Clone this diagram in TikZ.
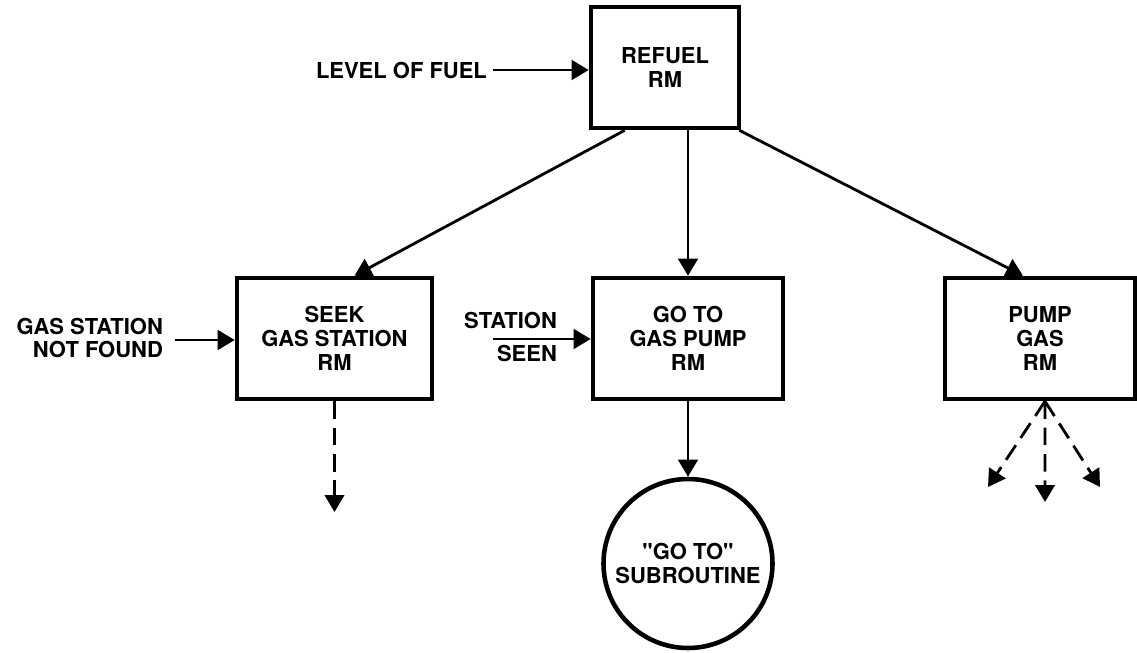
\documentclass[tikz,border=0pt]{standalone}
\usepackage{fontspec}
\setmainfont{TeX Gyre Heros}
\usepackage{tikz}
\usetikzlibrary{arrows.meta,positioning,calc}

\begin{document}
\begin{tikzpicture}[
    box/.style={draw, line width=2.6pt, minimum height=2.42cm, minimum width=3.8cm, align=center, inner sep=0pt},
    lbl/.style={font=\fontsize{12.5}{13.6}\selectfont\bfseries, align=center, inner sep=1pt},
    arr/.style={-{Triangle[length=3.4mm,width=3.9mm]}, line width=1.6pt},
    darr/.style={arr, dash pattern=on 10pt off 5pt}
]
\useasboundingbox (0,0) rectangle (22.74,-13.04);
% boxes
\node[box, lbl, minimum width=2.96cm] (refuel) at (13.30,-1.35) {REFUEL\\RM};
\node[box, lbl, minimum width=3.90cm] (seek) at (6.69,-6.77) {SEEK\\GAS STATION\\RM};
\node[box, lbl] (goto) at (13.76,-6.77) {GO TO\\GAS PUMP\\RM};
\node[box, lbl] (pump) at (20.80,-6.77) {PUMP\\GAS\\RM};
\node[draw, circle, line width=2.6pt, minimum size=3.38cm, lbl] (sub) at (13.76,-11.27) {\textquotedbl GO TO\textquotedbl\\SUBROUTINE};
% inputs
\node[lbl, anchor=east] (level) at (9.78,-1.40) {LEVEL OF FUEL};
\node[lbl, anchor=east, align=right] (notfound) at (3.30,-6.76) {GAS STATION\\NOT FOUND};
\node[lbl, anchor=south east] (stn) at (11.18,-6.62) {STATION};
\node[lbl, anchor=north east] (seen) at (11.18,-6.86) {SEEN};
\coordinate (sin) at (9.86,-6.78);
\coordinate (nfin) at (3.50,-6.80);
\draw[arr] ([xshift=2pt]level.east) -- (level.east -| refuel.west);
\draw[arr] (nfin) -- (nfin -| seek.west);
\draw[arr] (sin) -- (sin -| goto.west);
% tree
\draw[arr] ([xshift=0.72cm]refuel.south west) -- ([xshift=0.4cm]seek.north);
\draw[arr] (refuel.south -| goto.north) -- (goto.north);
\draw[arr] ([xshift=-0.04cm]refuel.south east) -- ([xshift=-0.34cm]pump.north);
\draw[arr] (goto.south) -- (sub.north);
% dashed outputs
\coordinate (s1) at (6.69,-10.24);
\coordinate (p1) at (19.76,-9.74);
\coordinate (p2) at (20.90,-10.04);
\coordinate (p3) at (22.00,-9.74);
\draw[darr] (seek.south) -- (s1);
\draw[darr] ([xshift=0.1cm]pump.south) -- (p1);
\draw[darr] ([xshift=0.1cm]pump.south) -- (p2);
\draw[darr] ([xshift=0.1cm]pump.south) -- (p3);
\end{tikzpicture}
\end{document}
